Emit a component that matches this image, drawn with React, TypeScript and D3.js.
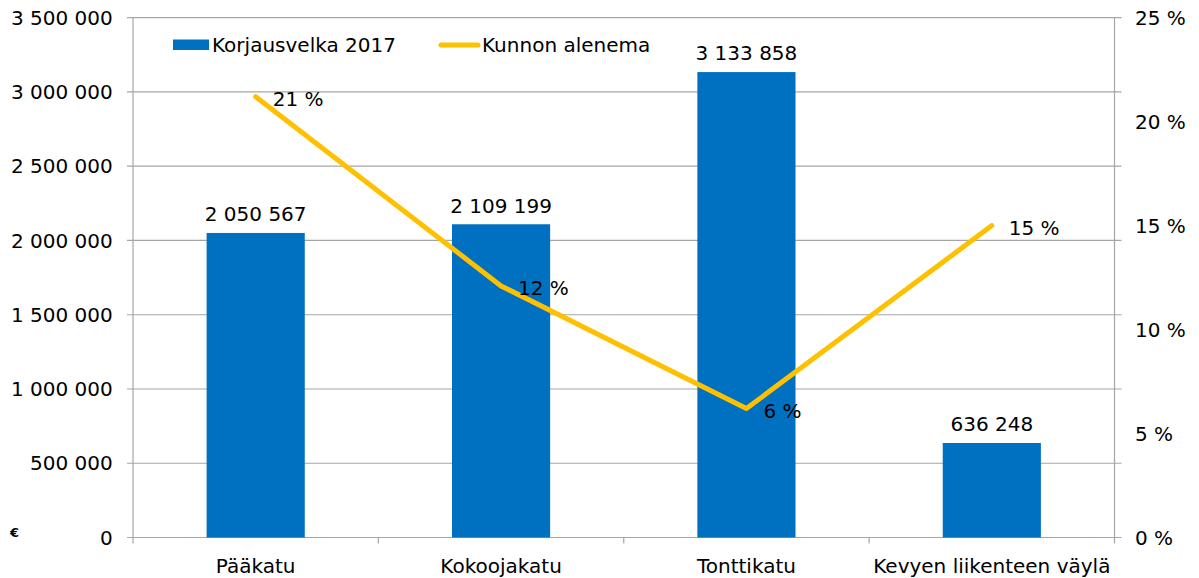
import React from "react";
import * as d3 from "d3";

const categories = ["Pääkatu", "Kokoojakatu", "Tonttikatu", "Kevyen liikenteen väylä"];
const korjausvelka = [2050567, 2109199, 3133858, 636248];
const kunnonAlenema = [21.2, 12.1, 6.2, 15.0];
const leftTicks = [0, 500000, 1000000, 1500000, 2000000, 2500000, 3000000, 3500000];
const rightTicks = [0, 5, 10, 15, 20, 25];
const seriesNames = ["Korjausvelka 2017", "Kunnon alenema"];

const W = 1199;
const H = 578;
const left = 133;
const right = 1114.5;
const top = 17.7;
const bottom = 537.5;
const FONT = "'DejaVu Sans', Verdana, sans-serif";
const GRID = "#A6A6A6";
const BLUE = "#0070C0";
const YELLOW = "#FFC000";

const fmt = (v: number) => d3.format(",")(v).replace(/,/g, " ");

export default function App() {
  const x = d3.scaleBand<string>().domain(categories).range([left, right]).paddingInner(0).paddingOuter(0);
  const yL = d3.scaleLinear().domain([0, 3500000]).range([bottom, top]);
  const yR = d3.scaleLinear().domain([0, 25]).range([bottom, top]);
  const bw = x.bandwidth() * 0.4;
  const cx = (c: string) => (x(c) as number) + x.bandwidth() / 2;
  const line = d3
    .line<number>()
    .x((_, i) => cx(categories[i]))
    .y((d) => yR(d));

  return (
    <svg width={W} height={H} style={{ position: "absolute", left: 0, top: 0, background: "#fff" }} fontFamily={FONT}>
      {/* gridlines */}
      {leftTicks.map((t) => (
        <line key={"g" + t} x1={left - 6} x2={right + 7} y1={yL(t)} y2={yL(t)} stroke={GRID} strokeWidth={1.2} />
      ))}
      {/* axes */}
      <line x1={left} x2={left} y1={top} y2={bottom + 6} stroke={GRID} strokeWidth={1.2} />
      <line x1={right} x2={right} y1={top} y2={bottom + 6} stroke={GRID} strokeWidth={1.2} />
      {categories.slice(1).map((c) => (
        <line key={"ct" + c} x1={x(c) as number} x2={x(c) as number} y1={bottom} y2={bottom + 6} stroke={GRID} strokeWidth={1.2} />
      ))}
      {/* left tick labels */}
      {leftTicks.map((t) => (
        <text key={"l" + t} x={112.7} y={yL(t)} dy="0.36em" textAnchor="end" fontSize={20} fill="#000">
          {fmt(t)}
        </text>
      ))}
      {/* right tick labels */}
      {rightTicks.map((t) => (
        <text key={"r" + t} x={1135} y={yR(t)} dy="0.36em" textAnchor="start" fontSize={20} fill="#000">
          {t + " %"}
        </text>
      ))}
      <text x={10} y={537} fontSize={13} fontWeight="bold" fill="#000">€</text>
      {/* bars */}
      {categories.map((c, i) => (
        <rect key={"b" + c} x={cx(c) - bw / 2} y={yL(korjausvelka[i])} width={bw} height={bottom - yL(korjausvelka[i])} fill={BLUE} />
      ))}
      {/* bar labels */}
      {categories.map((c, i) => (
        <text key={"bl" + c} x={cx(c)} y={yL(korjausvelka[i]) - 11.6} textAnchor="middle" fontSize={20} fill="#000">
          {fmt(korjausvelka[i])}
        </text>
      ))}
      {/* line */}
      <path d={line(kunnonAlenema) || ""} fill="none" stroke={YELLOW} strokeWidth={5} strokeLinecap="round" strokeLinejoin="round" />
      {categories.map((c, i) => (
        <text key={"pl" + c} x={cx(c) + 17} y={yR(kunnonAlenema[i]) + 2} dy="0.36em" fontSize={20} fill="#000">
          {Math.round(kunnonAlenema[i]) + " %"}
        </text>
      ))}
      {/* category labels */}
      {categories.map((c) => (
        <text key={"c" + c} x={cx(c)} y={573} textAnchor="middle" fontSize={20} fill="#000">
          {c}
        </text>
      ))}
      {/* legend */}
      <rect x={173} y={39.5} width={36} height={10.5} fill={BLUE} />
      <text x={212} y={52} fontSize={20} fill="#000">{seriesNames[0]}</text>
      <line x1={441} x2={478} y1={45} y2={45} stroke={YELLOW} strokeWidth={5} strokeLinecap="round" />
      <text x={482} y={52} fontSize={20} fill="#000">{seriesNames[1]}</text>
    </svg>
  );
}
